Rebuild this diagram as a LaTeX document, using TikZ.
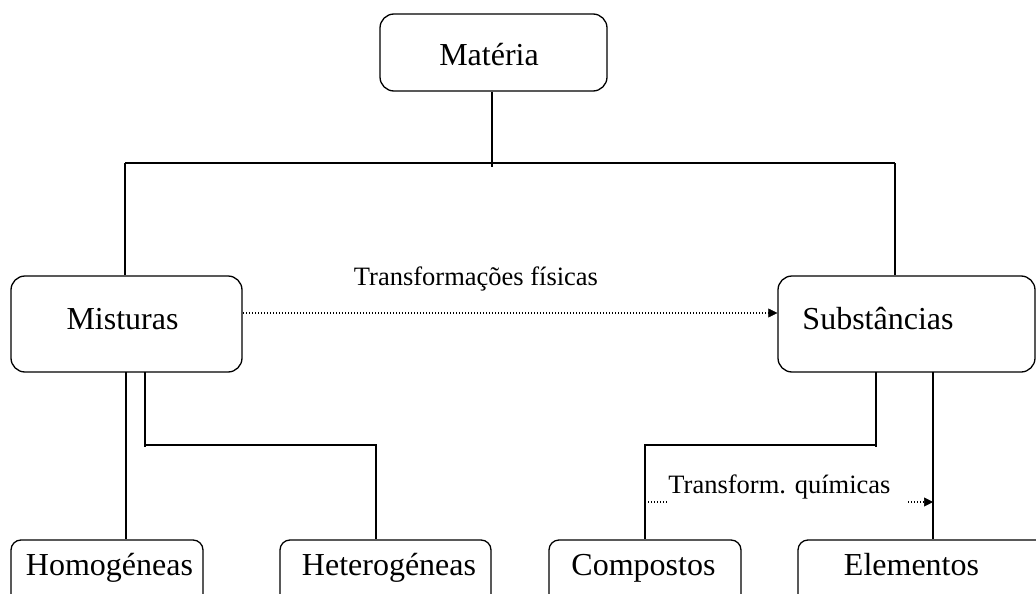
\documentclass[tikz,border=0pt]{standalone}
\usepackage{fontspec}
\setmainfont{Liberation Serif}
\usetikzlibrary{arrows.meta}
\begin{document}
\begin{tikzpicture}[x=1pt,y=-1pt,
  bigbox/.style={draw,rectangle,rounded corners=14pt,line width=1.3pt,inner sep=0pt},
  smallbox/.style={draw,rectangle,rounded corners=10pt,line width=1.3pt,inner sep=0pt},
  lbl/.style={anchor=base,inner sep=0pt,font=\fontsize{32}{36}\selectfont},
  smalllbl/.style={anchor=base,inner sep=0pt,font=\fontsize{26.5}{30}\selectfont},
  conn/.style={line width=1.2pt},
  dots/.style={line width=1.2pt,dash pattern=on 1.2pt off 1.8pt},
  tip/.style={-{Triangle[length=9pt,width=9pt,line width=0.5pt,fill=black]}}]
\useasboundingbox (0,0) rectangle (1036,594);
\clip (0,0) rectangle (1036,594);
% boxes
\node[bigbox,minimum width=227pt,minimum height=77pt] (mat) at (493.5,52.5) {};
\node[bigbox,minimum width=231pt,minimum height=96pt] (mis) at (126.5,324) {};
\node[bigbox,minimum width=257pt,minimum height=96pt] (sub) at (906.5,324) {};
\node[smallbox,minimum width=192pt,minimum height=90pt] (hom) at (107,585) {};
\node[smallbox,minimum width=211pt,minimum height=90pt] (het) at (385.5,585) {};
\node[smallbox,minimum width=192pt,minimum height=90pt] (com) at (645,585) {};
\node[smallbox,minimum width=262pt,minimum height=90pt] (ele) at (929,585) {};
% texts
\node[lbl] (tmat) at (489,66) {Matéria};
\node[lbl] (tmis) at (122.5,329) {Misturas};
\node[lbl] (tsub) at (878,329) {Substâncias};
\node[lbl] (thom) at (109.5,575) {Homogéneas};
\node[lbl] (thet) at (389,575) {Heterogéneas};
\node[lbl] (tcom) at (643.5,575) {Compostos};
\node[lbl] (tele) at (911.5,575) {Elementos};
\node[smalllbl] (tfis) at (476,285) {Transformações físicas};
\node[smalllbl] (tqui) at (779.5,493.3) {Transform. químicas};
% junction coordinates
\coordinate (jm) at (492,166.5);
\coordinate (jl) at (125,163);
\coordinate (jr) at (895,163);
\coordinate (ml) at (126,372);
\coordinate (mr) at (145,372);
\coordinate (mrb) at (145,447);
\coordinate (mh) at (376,445);
\coordinate (sl) at (876,372);
\coordinate (slb) at (876,447);
\coordinate (sh) at (645,445);
\coordinate (sr) at (933,372);
% tree connectors
\draw[conn] (mat.south -| jm) -- (jm);
\draw[conn] (jl) -- (jr);
\draw[conn] (jl) -- (jl |- mis.north);
\draw[conn] (jr) -- (jr |- sub.north);
\draw[conn] (ml) -- (ml |- hom.north);
\draw[conn] (mr) -- (mrb);
\draw[conn] (mr |- mh) -- (mh) -- (mh |- het.north);
\draw[conn] (sl) -- (slb);
\draw[conn] (sl |- sh) -- (sh) -- (sh |- com.north);
\draw[conn] (sr) -- (sr |- ele.north);
% dotted arrows
\coordinate (fa) at (243,313);
\draw[dots,tip] (fa) -- (fa -| sub.west);
\coordinate (qa) at (645,502);
\coordinate (qb) at (667,502);
\coordinate (qc) at (908,502);
\coordinate (qd) at (933,502);
\draw[dots] (qa) -- (qb);
\draw[dots,tip] (qc) -- (qd);
\end{tikzpicture}
\end{document}
